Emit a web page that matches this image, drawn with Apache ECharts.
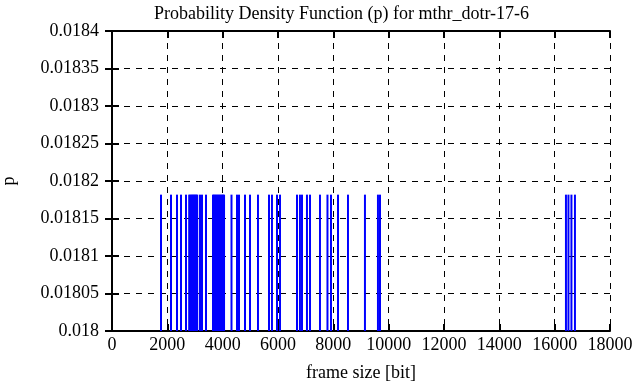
<!DOCTYPE html>
<html><head><meta charset="utf-8">
<script src="https://cdn.jsdelivr.net/npm/echarts@6/dist/echarts.min.js"></script>
<style>html,body{margin:0;padding:0;background:#fff}#c{width:636px;height:387px}</style>
</head><body><div id="c"></div>
<script>
var frameSizes = [1771, 2132, 2349, 2494, 2674,
  2790, 2830, 2870, 2905, 2940, 2975, 3010, 3045, 3080,
  3180, 3253, 3397,
  3650, 3690, 3730, 3770, 3810, 3850, 3890, 3930, 3970, 4010, 4050,
  4319, 4518, 4590, 4807, 4987, 5276, 5674, 5782, 5963, 6072,
  6686, 6794, 6867, 7047, 7156, 7517, 7788, 7915, 8168, 8529,
  9143, 9613, 9686, 16408, 16498, 16606, 16733];
var probs = frameSizes.map(function(){ return 0.0181818; });
var xTicks = [0, 2000, 4000, 6000, 8000, 10000, 12000, 14000, 16000, 18000];
var yTicks = [0.018, 0.01805, 0.0181, 0.01815, 0.0182, 0.01825, 0.0183, 0.01835, 0.0184];

var data = frameSizes.map(function(x, i){ return [x, probs[i]]; });
var font = 'Liberation Serif';
var fs = 18;
var chart = echarts.init(document.getElementById('c'));
function yfmt(v){ return String(parseFloat(v.toFixed(5))); }
function xfmt(v){ return String(Math.round(v)); }
var tickStyle = {show:true, inside:true, length:7, lineStyle:{color:'#000', width:2}};
chart.setOption({
  animation:false,
  title:{text:'Probability Density Function (p) for mthr_dotr-17-6', left:149, top:0,
    textStyle:{fontFamily:font, fontSize:fs, fontWeight:'normal', color:'#000'}},
  grid:{left:112, right:26, top:31, bottom:56, outerBoundsMode:'none', containLabel:false},
  xAxis:[{type:'value', min:xTicks[0], max:xTicks[xTicks.length-1], interval:2000,
    name:'frame size [bit]', nameLocation:'middle', nameGap:33,
    nameTextStyle:{fontFamily:font, fontSize:fs, color:'#000'},
    axisLine:{show:true, lineStyle:{color:'#000', width:2}},
    axisTick:tickStyle,
    axisLabel:{fontFamily:font, fontSize:fs, color:'#000', margin:5, formatter:xfmt},
    splitLine:{show:true, lineStyle:{color:'#000', type:[6,6], width:1}}},
   {type:'value', position:'top', min:xTicks[0], max:xTicks[xTicks.length-1], interval:2000,
    axisLine:{show:true, lineStyle:{color:'#000', width:2}}, axisTick:tickStyle,
    axisLabel:{show:false}, splitLine:{show:false}}],
  yAxis:[{type:'value', min:yTicks[0], max:yTicks[yTicks.length-1], interval:0.00005,
    name:'p', nameLocation:'middle', nameGap:94,
    nameTextStyle:{fontFamily:font, fontSize:fs, color:'#000'},
    axisLine:{show:true, lineStyle:{color:'#000', width:2}},
    axisTick:tickStyle,
    axisLabel:{fontFamily:font, fontSize:fs, color:'#000', margin:13, formatter:yfmt},
    splitLine:{show:true, lineStyle:{color:'#000', type:[6,6], width:1}}},
   {type:'value', position:'right', min:yTicks[0], max:yTicks[yTicks.length-1], interval:0.00005,
    axisLine:{show:true, lineStyle:{color:'#000', width:2}}, axisTick:tickStyle,
    axisLabel:{show:false}, splitLine:{show:false}}],
  series:[{type:'bar', data:data, barWidth:2, itemStyle:{color:'#0000ff'}, silent:true}]
});
</script></body></html>
